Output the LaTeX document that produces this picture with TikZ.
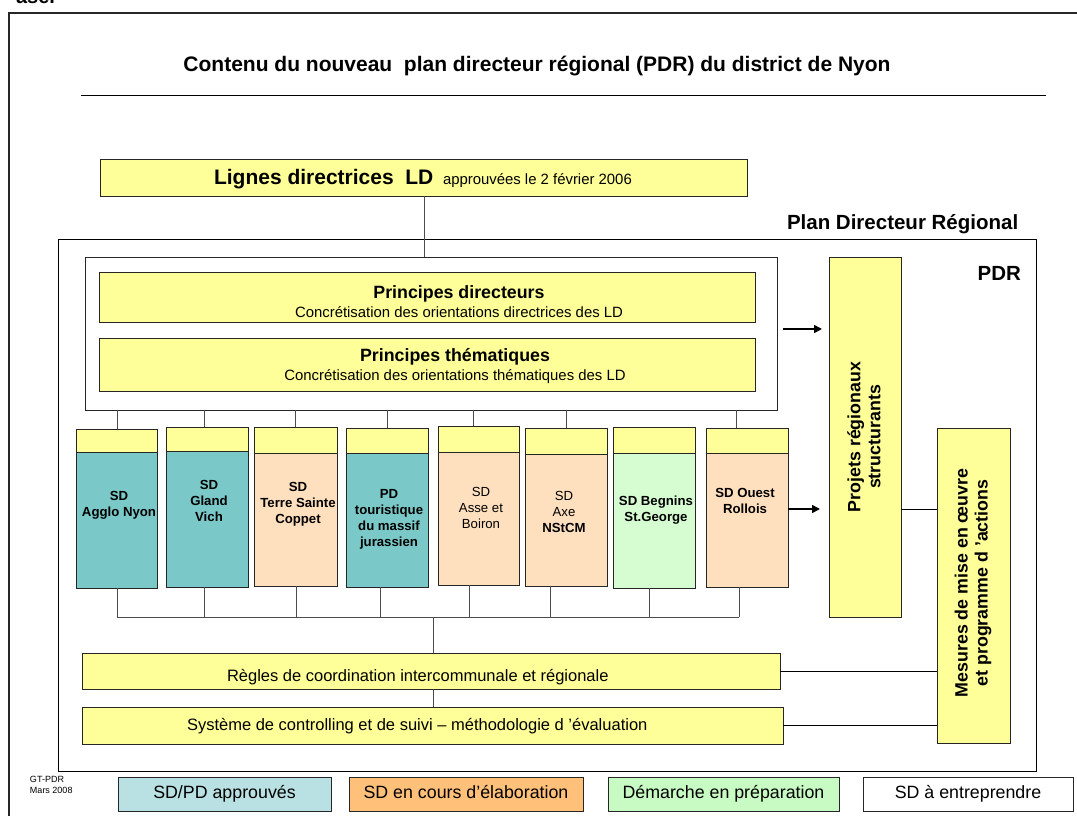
\documentclass[tikz,border=0pt]{standalone}
\usepackage{fontspec}
\setmainfont{Liberation Sans}
\usetikzlibrary{arrows.meta}
\definecolor{yel}{RGB}{255,255,153}
\definecolor{tealA}{RGB}{123,200,200}
\definecolor{peach}{RGB}{255,224,190}
\definecolor{lgreen}{RGB}{214,252,210}
\definecolor{legteal}{RGB}{185,224,226}
\definecolor{legorange}{RGB}{255,192,122}
\definecolor{leggreen}{RGB}{200,250,195}
\begin{document}
\begin{tikzpicture}[x=1pt,y=-1pt,
  cbox/.style={draw=black!85, line width=0.9pt, inner sep=0pt, outer sep=0pt, anchor=north west},
  ybox/.style={cbox, fill=yel},
  wbox/.style={cbox, fill=white},
  conn/.style={draw=black!70, line width=0.9pt},
  arr/.style={draw=black, line width=1.6pt, -{Triangle[length=8pt,width=8pt]}},
  fT/.style={font=\fontsize{21}{25}\selectfont\bfseries},
  fH/.style={font=\fontsize{17.8}{21}\selectfont\bfseries},
  fS/.style={font=\fontsize{14.9}{18}\selectfont},
  fR/.style={font=\fontsize{16.5}{20}\selectfont},
  fB/.style={font=\fontsize{13.2}{16}\selectfont\bfseries, align=center, inner sep=0pt},
  fN/.style={font=\fontsize{13.2}{16}\selectfont, align=center, inner sep=0pt},
  fL/.style={font=\fontsize{17.8}{21}\selectfont, text height=13pt, text depth=4pt},
  txt/.style={inner sep=0pt, outer sep=0pt}
]
\useasboundingbox (0,0) rectangle (1077,816);
\clip (0,0) rectangle (1077,816);

% fragment of text above the frame
\node[txt, anchor=base east, font=\fontsize{20}{24}\selectfont\bfseries] (frag) at (55,4) {ase.};

% outer frame
\draw[line width=1.5pt, draw=black!85] (9,13) rectangle (1100,840);

% title and rule
\node[txt, fT, anchor=base] (title) at (537,71) {Contenu du nouveau\ \ plan directeur régional (PDR) du district de Nyon};
\draw[line width=1pt] (81,96) -- (1046,96);

% Lignes directrices
\node[ybox, minimum width=647pt, minimum height=37pt] (ld) at (100,159) {};
\node[txt, anchor=base west, fT] (ldt) at (214,184) {Lignes directrices\ \ LD};
\node[txt, anchor=base west, fS] (ldd) at (443,184) {approuvées le 2 février 2006};

% PDR box
\node[txt, anchor=base west, font=\fontsize{20.5}{24}\selectfont\bfseries] (pdrtitle) at (787,229) {Plan Directeur Régional};
\node[wbox, line width=1pt, draw=black, minimum width=978pt, minimum height=532pt] (pdr) at (58,239) {};
\node[txt, anchor=base east, font=\fontsize{20.5}{24}\selectfont\bfseries] (pdrlabel) at (1021,280) {PDR};

% inner box with principles
\node[wbox, minimum width=692pt, minimum height=153pt] (inner) at (85,257) {};
\coordinate (ldx) at (424,220);
\draw[conn] (ld.south -| ldx) -- (inner.north -| ldx);

\node[ybox, minimum width=656pt, minimum height=50pt] (pd) at (99,272) {};
\node[txt, fH, anchor=base] (pdt) at (459,298) {Principes directeurs};
\node[txt, fS, anchor=base] (pds) at (459,317) {Concrétisation des orientations directrices des LD};

\node[ybox, minimum width=656pt, minimum height=53pt] (pt) at (99,338) {};
\node[txt, fH, anchor=base] (ptt) at (455,361) {Principes thématiques};
\node[txt, fS, anchor=base] (pts) at (455,380) {Concrétisation des orientations thématiques des LD};

% right column boxes
\node[ybox, minimum width=72pt, minimum height=360pt] (proj) at (829,257) {};
\node[txt, rotate=90, align=center, font=\fontsize{17.8}{20}\selectfont\bfseries] (projt) at (864,437) {Projets régionaux\\structurants};
\node[ybox, minimum width=73pt, minimum height=315pt] (mes) at (937,428) {};
\node[txt, rotate=90, align=center, font=\fontsize{17.8}{20}\selectfont\bfseries] (mest) at (973,583) {Mesures de mise en œuvre\\et programme d ’actions};

% SD boxes: body then yellow header
\node[cbox, fill=tealA, minimum width=81pt, minimum height=159pt] (b1) at (76,429) {};
\node[ybox, minimum width=81pt, minimum height=23pt] (h1) at (76,429) {};
\node[cbox, fill=tealA, minimum width=82pt, minimum height=160pt] (b2) at (166,427) {};
\node[ybox, minimum width=82pt, minimum height=24pt] (h2) at (166,427) {};
\node[cbox, fill=peach, minimum width=83pt, minimum height=159pt] (b3) at (254,427) {};
\node[ybox, minimum width=83pt, minimum height=26pt] (h3) at (254,427) {};
\node[cbox, fill=tealA, minimum width=82pt, minimum height=159pt] (b4) at (346,428) {};
\node[ybox, minimum width=82pt, minimum height=25pt] (h4) at (346,428) {};
\node[cbox, fill=peach, minimum width=81pt, minimum height=159pt] (b5) at (438,426) {};
\node[ybox, minimum width=81pt, minimum height=26pt] (h5) at (438,426) {};
\node[cbox, fill=peach, minimum width=82pt, minimum height=158pt] (b6) at (525,428) {};
\node[ybox, minimum width=82pt, minimum height=26pt] (h6) at (525,428) {};
\node[cbox, fill=lgreen, minimum width=82pt, minimum height=161pt] (b7) at (613,427) {};
\node[ybox, minimum width=82pt, minimum height=26pt] (h7) at (613,427) {};
\node[cbox, fill=peach, minimum width=82pt, minimum height=159pt] (b8) at (706,428) {};
\node[ybox, minimum width=82pt, minimum height=25pt] (h8) at (706,428) {};

\node[fB] (t1) at (119,505) {SD\\Agglo Nyon};
\node[fB] (t2) at (209,501) {SD\\Gland\\Vich};
\node[fB] (t3) at (298,504) {SD\\Terre Sainte\\Coppet};
\node[fB] (t4) at (389,519) {PD\\touristique\\du massif\\jurassien};
\node[fN] (t5) at (481,508) {SD\\Asse et\\Boiron};
\node[fN] (t6) at (564,512) {SD\\Axe\\\textbf{NStCM}};
\node[fB] (t7) at (656,510) {SD Begnins\\St.George};
\node[fB] (t8) at (745,501) {SD Ouest\\Rollois};

% top ticks
\foreach \n/\x in {1/117,2/204,3/295,4/387,5/473,6/566,8/736}{
  \coordinate (u\n) at (\x,410);
  \draw[conn] (inner.south -| u\n) -- (h\n.north -| u\n);
}
% bottom ticks and bus
\foreach \n/\x in {1/117,2/204,3/296,4/380,5/469,6/550,7/649,8/739}{
  \coordinate (k\n) at (\x,617);
  \draw[conn] (b\n.south -| k\n) -- (k\n);
}
\draw[conn] (k1) -- (k8);

% rules boxes
\node[ybox, minimum width=698pt, minimum height=36pt] (regles) at (82,653) {};
\node[txt, fR, anchor=base west] (reglest) at (227,681) {Règles de coordination intercommunale et régionale};
\node[ybox, minimum width=701pt, minimum height=37pt] (sys) at (82,707) {};
\node[txt, fR, anchor=base west] (syst) at (187,730) {Système de controlling et de suivi – méthodologie d ’évaluation};

\coordinate (kc) at (433,617);
\draw[conn] (kc) -- (regles.north -| kc);
\draw[conn] (regles.south -| kc) -- (sys.north -| kc);

% arrows and links to right column
\coordinate (a1) at (800,329);
\coordinate (a2) at (800,509);
\draw[arr, shorten <=6pt, shorten >=7pt] (inner.east |- a1) -- (proj.west |- a1);
\draw[arr, shorten >=9pt] (b8.east |- a2) -- (proj.west |- a2);
\draw[conn, draw=black] (proj.east |- a2) -- (mes.west |- a2);
\draw[conn, draw=black] (regles.east) -- (regles.east -| mes.west);
\draw[conn, draw=black] (sys.east) -- (sys.east -| mes.west);

% footer
\node[txt, anchor=north west, align=left, font=\fontsize{9}{11}\selectfont] (gt) at (30,776) {GT-PDR\\Mars 2008};

% legend
\node[cbox, fill=legteal, minimum width=213pt, minimum height=34pt, fL] (l1) at (118,777) {SD/PD approuvés};
\node[cbox, fill=legorange, minimum width=234pt, minimum height=34pt, fL] (l2) at (349,777) {SD en cours d’élaboration};
\node[cbox, fill=leggreen, minimum width=231pt, minimum height=34pt, fL] (l3) at (608,777) {Démarche en préparation};
\node[cbox, fill=white, minimum width=210pt, minimum height=34pt, fL] (l4) at (863,777) {SD à entreprendre};
\end{tikzpicture}
\end{document}
